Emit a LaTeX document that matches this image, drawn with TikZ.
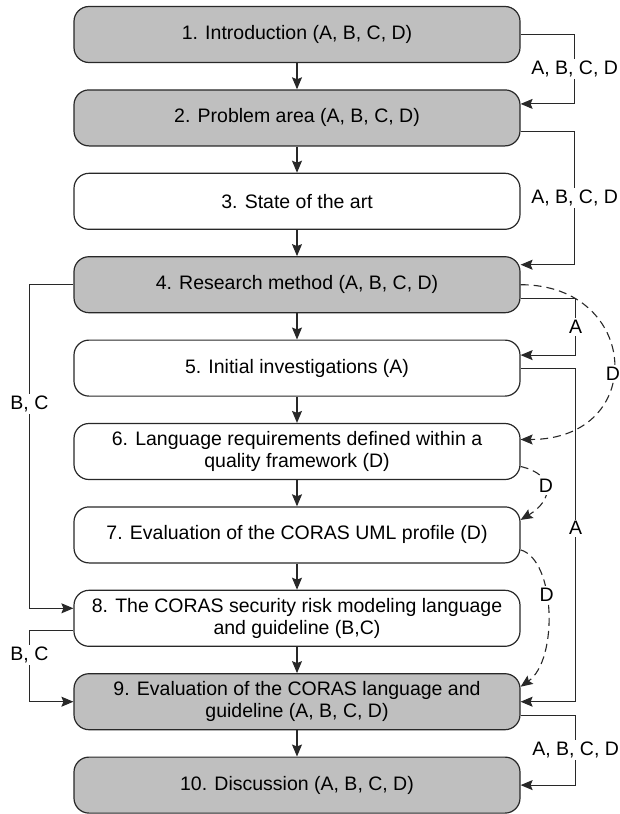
\documentclass[tikz,border=0pt]{standalone}
\usepackage{fontspec}
\setmainfont{Liberation Sans}
\usetikzlibrary{arrows.meta}
\definecolor{boxgray}{RGB}{191,191,191}
\definecolor{ink}{RGB}{40,40,40}
\begin{document}
\begin{tikzpicture}[x=1pt,y=-1pt,
  font=\fontsize{19.5}{22}\selectfont,
  stage/.style={draw=ink, line width=1.2pt, rounded corners=15pt,
    minimum width=446pt, minimum height=56pt, align=center, inner sep=0pt},
  core/.style={stage, fill=boxgray},
  flow/.style={draw=ink, line width=1.1pt, -{Stealth[length=12pt,width=10pt,inset=2pt]}},
  part/.style={flow, dash pattern=on 8pt off 5pt},
  tag/.style={fill=white, inner sep=2pt, text=black}
]
\useasboundingbox (0,0) rectangle (620,814);

% chapters
\node[core]  (b1)  at (297,34.5)  {1. Introduction (A, B, C, D)};
\node[core]  (b2)  at (297,117.9) {2. Problem area (A, B, C, D)};
\node[stage] (b3)  at (297,201.3) {3. State of the art};
\node[core]  (b4)  at (297,284.7) {4. Research method (A, B, C, D)};
\node[stage] (b5)  at (297,368.1) {5. Initial investigations (A)};
\node[stage] (b6)  at (297,451.5) {6. Language requirements defined within a\\quality framework (D)};
\node[stage] (b7)  at (297,534.9) {7. Evaluation of the CORAS UML profile (D)};
\node[stage] (b8)  at (297,618.3) {8. The CORAS security risk modeling language\\and guideline (B,C)};
\node[core]  (b9)  at (297,701.7) {9. Evaluation of the CORAS language and\\guideline (A, B, C, D)};
\node[core]  (b10) at (297,785.1) {10. Discussion (A, B, C, D)};

% main reading order
\foreach \i/\j in {1/2,2/3,3/4,4/5,5/6,6/7,7/8,8/9,9/10}
  \draw[flow] (b\i) -- (b\j);

% shortcuts on the right
\draw[flow] (b1.east) -- ++(54,0) |- node[tag,pos=0.25]{A, B, C, D} ([yshift=14pt]b2.east);
\draw[flow] ([yshift=-14pt]b2.east) -- ++(54,0) |- node[tag,pos=0.25]{A, B, C, D} ([yshift=20pt]b4.east);
\draw[flow] ([yshift=-14pt]b4.east) -- ++(55,0) |- node[tag,pos=0.25]{A} ([yshift=13pt]b5.east);
\draw[flow] (b5.east) -- ++(55,0) |- node[tag,pos=0.24]{A} (b9.east);
\draw[flow] ([yshift=-14pt]b9.east) -- ++(55,0) |- node[tag,pos=0.25]{A, B, C, D} (b10.east);

% shortcuts on the left
\draw[flow] (b4.west) -- ++(-44,0) |- node[tag,pos=0.185]{B, C} ([yshift=10pt]b8.west);
\draw[flow] ([yshift=-12pt]b8.west) -- ++(-44,0) |- node[tag,pos=0.17]{B, C} (b9.west);

% path D
\draw[part] (b4.east) .. controls +(120,0) and +(128,0) .. node[tag,pos=0.55]{D} ([yshift=12pt]b6.east);
\draw[part] ([yshift=-15pt]b6.east) .. controls +(35,8) and +(33,-20) .. node[tag,pos=0.45]{D} ([yshift=15pt]b7.east);
\draw[part] ([yshift=-15pt]b7.east) .. controls +(35,10) and +(38,-27) .. node[tag,pos=0.4]{D} ([yshift=15pt]b9.east);
\end{tikzpicture}
\end{document}
